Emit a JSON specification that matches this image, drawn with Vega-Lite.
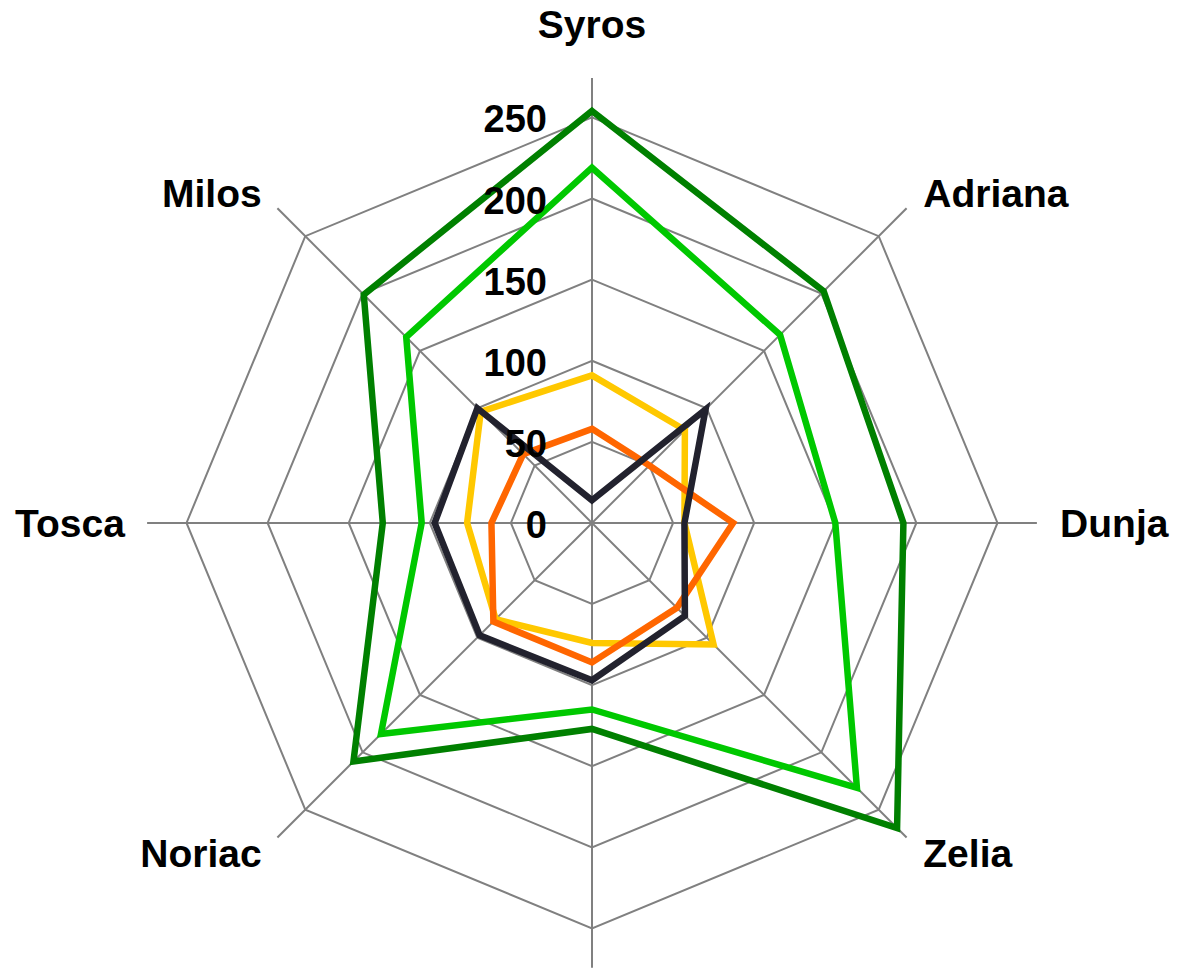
{
  "$schema": "https://vega.github.io/schema/vega-lite/v6.json",
  "width": 1178,
  "height": 968,
  "padding": 0,
  "autosize": {"type": "none"},
  "background": "white",
  "config": {"view": {"stroke": null}},
  "datasets": {
    "scores": [
      {"series": "S1", "idx": 0, "value": 254}, {"series": "S1", "idx": 1, "value": 202}, {"series": "S1", "idx": 2, "value": 192}, {"series": "S1", "idx": 3, "value": 266},
      {"series": "S1", "idx": 4, "value": 127}, {"series": "S1", "idx": 5, "value": 208}, {"series": "S1", "idx": 6, "value": 129}, {"series": "S1", "idx": 7, "value": 199},
      {"series": "S2", "idx": 0, "value": 219}, {"series": "S2", "idx": 1, "value": 164}, {"series": "S2", "idx": 2, "value": 150}, {"series": "S2", "idx": 3, "value": 231},
      {"series": "S2", "idx": 4, "value": 115}, {"series": "S2", "idx": 5, "value": 184}, {"series": "S2", "idx": 6, "value": 105}, {"series": "S2", "idx": 7, "value": 162},
      {"series": "S3", "idx": 0, "value": 91}, {"series": "S3", "idx": 1, "value": 81}, {"series": "S3", "idx": 2, "value": 57}, {"series": "S3", "idx": 3, "value": 106},
      {"series": "S3", "idx": 4, "value": 74}, {"series": "S3", "idx": 5, "value": 84}, {"series": "S3", "idx": 6, "value": 77}, {"series": "S3", "idx": 7, "value": 97},
      {"series": "S4", "idx": 0, "value": 58}, {"series": "S4", "idx": 1, "value": 50}, {"series": "S4", "idx": 2, "value": 87}, {"series": "S4", "idx": 3, "value": 74},
      {"series": "S4", "idx": 4, "value": 86}, {"series": "S4", "idx": 5, "value": 86}, {"series": "S4", "idx": 6, "value": 62}, {"series": "S4", "idx": 7, "value": 60},
      {"series": "S5", "idx": 0, "value": 14}, {"series": "S5", "idx": 1, "value": 99}, {"series": "S5", "idx": 2, "value": 57}, {"series": "S5", "idx": 3, "value": 81},
      {"series": "S5", "idx": 4, "value": 97}, {"series": "S5", "idx": 5, "value": 98}, {"series": "S5", "idx": 6, "value": 97}, {"series": "S5", "idx": 7, "value": 100}
    ],
    "rings": [
      {"level": 50, "idx": [0, 1, 2, 3, 4, 5, 6, 7]},
      {"level": 100, "idx": [0, 1, 2, 3, 4, 5, 6, 7]},
      {"level": 150, "idx": [0, 1, 2, 3, 4, 5, 6, 7]},
      {"level": 200, "idx": [0, 1, 2, 3, 4, 5, 6, 7]},
      {"level": 250, "idx": [0, 1, 2, 3, 4, 5, 6, 7]}
    ],
    "axes": [
      {"idx": 0, "name": "Syros"},
      {"idx": 1, "name": "Adriana"},
      {"idx": 2, "name": "Dunja"},
      {"idx": 3, "name": "Zelia"},
      {"idx": 4, "name": null},
      {"idx": 5, "name": "Noriac"},
      {"idx": 6, "name": "Tosca"},
      {"idx": 7, "name": "Milos"}
    ],
    "ticks": [
      {"level": 0}, {"level": 50}, {"level": 100}, {"level": 150}, {"level": 200}, {"level": 250}
    ]
  },
  "layer": [
    {
      "data": {"name": "rings"},
      "transform": [
        {"flatten": ["idx"]},
        {"calculate": "datum.idx * PI / 4", "as": "a"},
        {"calculate": "datum.level * sin(datum.a)", "as": "px"},
        {"calculate": "datum.level * cos(datum.a)", "as": "py"}
      ],
      "mark": {"type": "line", "interpolate": "linear-closed", "stroke": "#808080", "strokeWidth": 2},
      "encoding": {
        "x": {"field": "px", "type": "quantitative", "scale": {"domain": [-365, 361.3], "nice": false, "zero": false}, "axis": null},
        "y": {"field": "py", "type": "quantitative", "scale": {"domain": [-274.4, 322.4], "nice": false, "zero": false}, "axis": null},
        "detail": {"field": "level", "type": "nominal"},
        "order": {"field": "idx", "type": "quantitative"}
      }
    },
    {
      "data": {"name": "axes"},
      "transform": [
        {"calculate": "datum.idx * PI / 4", "as": "a"},
        {"calculate": "0", "as": "cx"},
        {"calculate": "274.3 * sin(datum.a)", "as": "ex"},
        {"calculate": "274.3 * cos(datum.a)", "as": "ey"}
      ],
      "mark": {"type": "rule", "stroke": "#808080", "strokeWidth": 2},
      "encoding": {
        "x": {"field": "cx", "type": "quantitative", "scale": {"domain": [-365, 361.3], "nice": false, "zero": false}, "axis": null},
        "y": {"field": "cx", "type": "quantitative", "scale": {"domain": [-274.4, 322.4], "nice": false, "zero": false}, "axis": null},
        "x2": {"field": "ex"},
        "y2": {"field": "ey"}
      }
    },
    {
      "data": {"name": "scores"},
      "transform": [
        {"calculate": "datum.idx * PI / 4", "as": "a"},
        {"calculate": "datum.value * sin(datum.a)", "as": "px"},
        {"calculate": "datum.value * cos(datum.a)", "as": "py"}
      ],
      "mark": {"type": "line", "interpolate": "linear-closed", "strokeWidth": 6.5, "strokeJoin": "miter"},
      "encoding": {
        "x": {"field": "px", "type": "quantitative", "scale": {"domain": [-365, 361.3], "nice": false, "zero": false}, "axis": null},
        "y": {"field": "py", "type": "quantitative", "scale": {"domain": [-274.4, 322.4], "nice": false, "zero": false}, "axis": null},
        "color": {"field": "series", "type": "nominal", "scale": {"domain": ["S1", "S2", "S3", "S4", "S5"], "range": ["#008000", "#00c800", "#ffc800", "#ff6600", "#22222e"]}, "legend": null},
        "order": {"field": "idx", "type": "quantitative"},
        "strokeWidth": {"value": 6.5}
      }
    },
    {
      "data": {"name": "ticks"},
      "transform": [
        {"calculate": "0", "as": "cx"}
      ],
      "mark": {"type": "text", "align": "right", "baseline": "middle", "dx": -45, "dy": 4, "font": "Liberation Sans", "fontWeight": "bold", "fontSize": 38, "color": "#000000"},
      "encoding": {
        "x": {"field": "cx", "type": "quantitative", "scale": {"domain": [-365, 361.3], "nice": false, "zero": false}, "axis": null},
        "y": {"field": "level", "type": "quantitative", "scale": {"domain": [-274.4, 322.4], "nice": false, "zero": false}, "axis": null},
        "text": {"field": "level", "type": "quantitative"}
      }
    },
    {
      "data": {"name": "axes"},
      "transform": [
        {"filter": "datum.idx == 0"},
        {"calculate": "datum.idx * PI / 4", "as": "a"},
        {"calculate": "288 * sin(datum.a)", "as": "lx"},
        {"calculate": "288 * cos(datum.a)", "as": "ly"}
      ],
      "mark": {"type": "text", "align": "center", "baseline": "alphabetic", "dy": -18, "font": "Liberation Sans", "fontWeight": "bold", "fontSize": 39, "color": "#000000"},
      "encoding": {
        "x": {"field": "lx", "type": "quantitative", "scale": {"domain": [-365, 361.3], "nice": false, "zero": false}, "axis": null},
        "y": {"field": "ly", "type": "quantitative", "scale": {"domain": [-274.4, 322.4], "nice": false, "zero": false}, "axis": null},
        "text": {"field": "name", "type": "nominal"}
      }
    },
    {
      "data": {"name": "axes"},
      "transform": [
        {"filter": "datum.idx >= 1 && datum.idx <= 3"},
        {"calculate": "datum.idx * PI / 4", "as": "a"},
        {"calculate": "288 * sin(datum.a)", "as": "lx"},
        {"calculate": "288 * cos(datum.a)", "as": "ly"}
      ],
      "mark": {"type": "text", "align": "left", "baseline": "middle", "dx": 1, "dy": 2, "font": "Liberation Sans", "fontWeight": "bold", "fontSize": 39, "color": "#000000"},
      "encoding": {
        "x": {"field": "lx", "type": "quantitative", "scale": {"domain": [-365, 361.3], "nice": false, "zero": false}, "axis": null},
        "y": {"field": "ly", "type": "quantitative", "scale": {"domain": [-274.4, 322.4], "nice": false, "zero": false}, "axis": null},
        "text": {"field": "name", "type": "nominal"}
      }
    },
    {
      "data": {"name": "axes"},
      "transform": [
        {"filter": "datum.idx >= 5 && datum.idx <= 7"},
        {"calculate": "datum.idx * PI / 4", "as": "a"},
        {"calculate": "288 * sin(datum.a)", "as": "lx"},
        {"calculate": "288 * cos(datum.a)", "as": "ly"}
      ],
      "mark": {"type": "text", "align": "right", "baseline": "middle", "dx": 0, "dy": 2, "font": "Liberation Sans", "fontWeight": "bold", "fontSize": 39, "color": "#000000"},
      "encoding": {
        "x": {"field": "lx", "type": "quantitative", "scale": {"domain": [-365, 361.3], "nice": false, "zero": false}, "axis": null},
        "y": {"field": "ly", "type": "quantitative", "scale": {"domain": [-274.4, 322.4], "nice": false, "zero": false}, "axis": null},
        "text": {"field": "name", "type": "nominal"}
      }
    }
  ]
}
